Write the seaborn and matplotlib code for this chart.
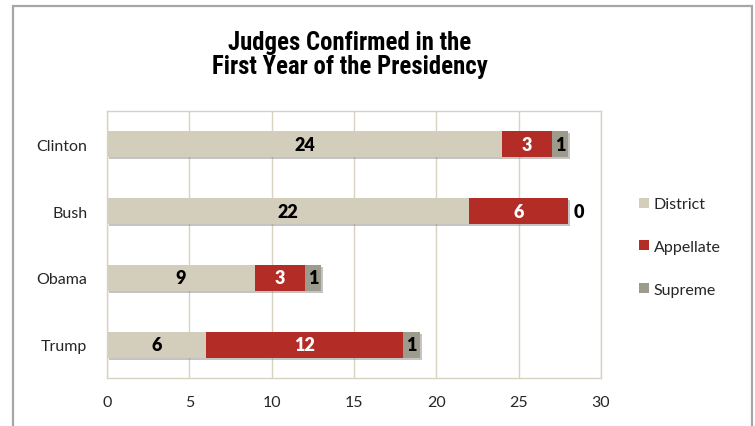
import matplotlib
matplotlib.use("Agg")
import matplotlib.pyplot as plt
import matplotlib.patheffects as pe
from matplotlib import font_manager as fm
from matplotlib.patches import Rectangle
import pandas as pd
import seaborn as sns

# Judges confirmed during each president's first year
presidents = ["Clinton", "Bush", "Obama", "Trump"]
district = [24, 22, 9, 6]
appellate = [3, 6, 3, 12]
supreme = [1, 0, 1, 1]
series_names = ["District", "Appellate", "Supreme"]
x_ticks = [0, 5, 10, 15, 20, 25, 30]

COL_DISTRICT = "#d3cebc"
COL_APPELLATE = "#b32d26"
COL_SUPREME = "#9d9b8c"
GRID = "#d8d2c0"

sns.set_theme(style="white")
plt.rcParams["font.family"] = ["Lato", "DejaVu Sans"]


def first_available(names, weight="bold"):
    for name in names:
        try:
            fm.findfont(fm.FontProperties(family=name, weight=weight),
                        fallback_to_default=False)
            return name
        except ValueError:
            continue
    return None


# narrow face for the title if one is installed
narrow = first_available(["Liberation Sans Narrow", "Roboto Condensed",
                          "Open Sans Condensed", "Noto Sans Condensed",
                          "DejaVu Sans Condensed"])
title_family = narrow or "Roboto"
title_size = 17.8 if narrow else 14.5

df = pd.DataFrame({"president": presidents, "District": district,
                   "Appellate": appellate, "Supreme": supreme})
df["d_end"] = df["District"]
df["a_end"] = df["District"] + df["Appellate"]
df["s_end"] = df["a_end"] + df["Supreme"]

fig = plt.figure(figsize=(7.55, 4.27), dpi=100)
fig.patches.append(Rectangle((13 / 755, -0.05), (752 - 13) / 755, 1.05 - 7 / 427,
                             transform=fig.transFigure, fill=False,
                             edgecolor="#a6a6a6", linewidth=1.6))
ax = fig.add_axes([107 / 755, 1 - 379 / 427, (601 - 107) / 755, (379 - 112) / 427])

bar_w = 0.39
shadow = [pe.SimplePatchShadow(offset=(1.5, -1.5), shadow_rgbFace="#8a8a8a", alpha=0.5),
          pe.Normal()]
layers = [("s_end", COL_SUPREME), ("a_end", COL_APPELLATE), ("d_end", COL_DISTRICT)]
for i, (col, color) in enumerate(layers):
    n_before = len(ax.patches)
    sns.barplot(data=df, x=col, y="president", orient="h", color=color,
                width=bar_w, saturation=1, ax=ax, linewidth=0)
    if i == 0:
        for p in ax.patches[n_before:]:
            p.set_path_effects(shadow)

label_font = dict(fontsize=13, fontweight="heavy", ha="center", va="center")
for yi, row in df.iterrows():
    ax.text(row["District"] / 2, yi, f"{row['District']}", color="black", **label_font)
    ax.text(row["District"] + row["Appellate"] / 2, yi, f"{row['Appellate']}",
            color="white", **label_font)
    if row["Supreme"] > 0:
        ax.text(row["a_end"] + row["Supreme"] / 2, yi, f"{row['Supreme']}",
                color="black", **label_font)
    else:
        ax.text(row["a_end"] + 0.65, yi, f"{row['Supreme']}", color="black", **label_font)

ax.set_xlim(0, 30)
ax.set_xticks(x_ticks)
ax.set_xticklabels([str(t) for t in x_ticks], fontsize=11.5)
ax.tick_params(axis="x", length=0, pad=12)
ax.tick_params(axis="y", length=0, pad=14, labelsize=11.5)
ax.set_xlabel("")
ax.set_ylabel("")
ax.grid(axis="x", color=GRID, linewidth=1)
ax.set_axisbelow(True)
for s in ax.spines.values():
    s.set_color(GRID)
    s.set_linewidth(1)

handles = [Rectangle((0, 0), 1, 1, facecolor=c, edgecolor="none")
           for c in (COL_DISTRICT, COL_APPELLATE, COL_SUPREME)]
leg = fig.legend(handles, series_names, loc="center left",
                 bbox_to_anchor=(625 / 755, 1 - 248 / 427), frameon=False,
                 fontsize=11.5, handlelength=0.6, handleheight=0.6,
                 handletextpad=0.3, labelspacing=1.8)

fig.text(350 / 755, 1 - 55 / 427, "Judges Confirmed in the\nFirst Year of the Presidency",
         ha="center", va="center", fontsize=title_size, fontweight="bold",
         family=[title_family, "DejaVu Sans"], linespacing=1.05, color="black")

fig.savefig("out.png", dpi=100)
